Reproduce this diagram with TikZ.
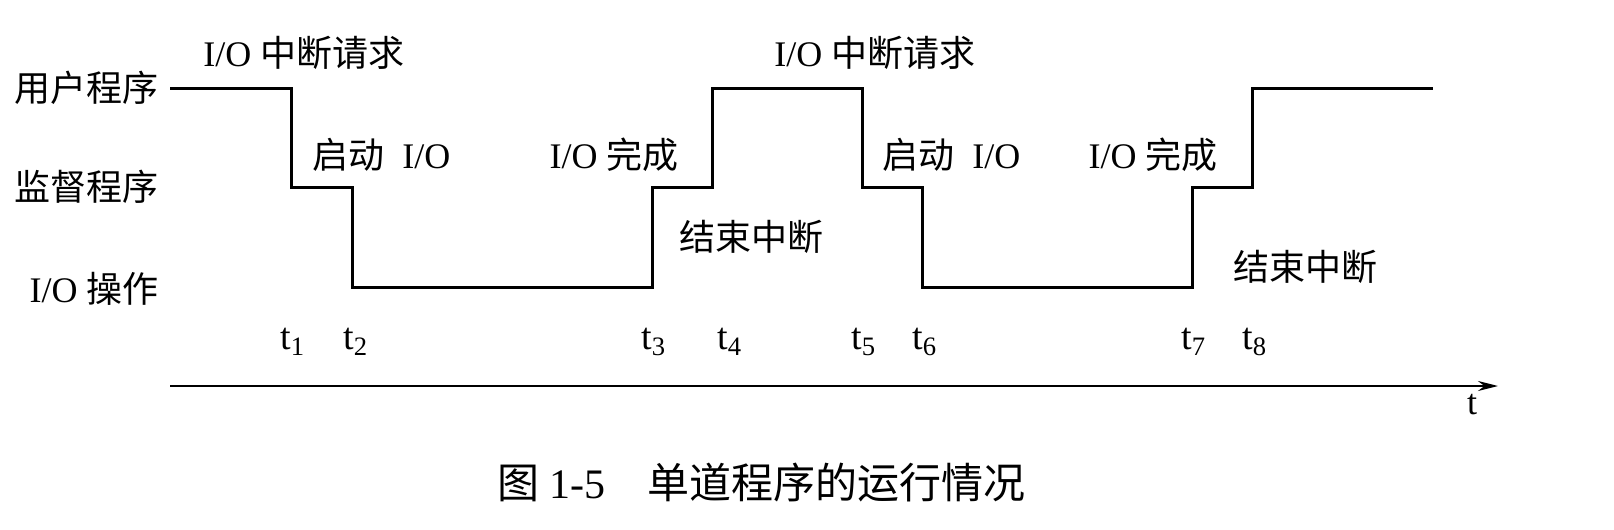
\documentclass[tikz,border=0pt]{standalone}
\usepackage{fontspec}
\setmainfont{Liberation Serif}
\newfontfamily\cjk{Noto Sans CJK SC}
\usetikzlibrary{arrows.meta}
\newcommand{\zh}[1]{{\cjk #1}}
\newcommand{\tsub}[1]{t\textsubscript{#1}}
\begin{document}
\begin{tikzpicture}[x=0.5pt,y=-0.5pt,
  lbl/.style={inner sep=0pt,font=\fontsize{18pt}{20pt}\selectfont},
  tlbl/.style={inner sep=0pt,anchor=west,font=\fontsize{19pt}{21pt}\selectfont},
  wave/.style={line width=1.5pt,line join=miter},
  axis/.style={line width=1pt,-{Stealth[length=10pt,width=5pt]}}]
\useasboundingbox[fill=white] (0,0) rectangle (1614,530);
% levels
\coordinate (p0) at (170,88);
\coordinate (p1) at (291,88);
\coordinate (p2) at (291,187);
\coordinate (p3) at (352,187);
\coordinate (p4) at (352,287);
\coordinate (p5) at (652,287);
\coordinate (p6) at (652,187);
\coordinate (p7) at (712,187);
\coordinate (p8) at (712,88);
\coordinate (p9) at (862,88);
\coordinate (p10) at (862,187);
\coordinate (p11) at (922,187);
\coordinate (p12) at (922,287);
\coordinate (p13) at (1192,287);
\coordinate (p14) at (1192,187);
\coordinate (p15) at (1252,187);
\coordinate (p16) at (1252,88);
\coordinate (p17) at (1433,88);
\draw[wave] (p0) -- (p1) -- (p2) -- (p3) -- (p4) -- (p5) -- (p6) -- (p7) -- (p8) -- (p9) -- (p10) -- (p11) -- (p12) -- (p13) -- (p14) -- (p15) -- (p16) -- (p17);
% axis
\coordinate (a0) at (170,386);
\coordinate (a1) at (1498,386);
\draw[axis] (a0) -- (a1);
\node[lbl] (tax) at (1472,405) {t};
% row labels
\node[lbl,anchor=east] (user) at (159,88) {\zh{用户程序}};
\node[lbl,anchor=east] (sup) at (159,187) {\zh{监督程序}};
\node[lbl,anchor=east] (iop) at (159,289) {I/O \zh{操作}};
% event labels
\node[lbl,anchor=west] (irq1) at (203,53) {I/O \zh{中断请求}};
\node[lbl,anchor=west] (irq2) at (774,53) {I/O \zh{中断请求}};
\node[lbl,anchor=west] (st1) at (312,155) {\zh{启动}\ \ I/O};
\node[lbl,anchor=west] (st2) at (882,155) {\zh{启动}\ \ I/O};
\node[lbl,anchor=east] (done1) at (679,155) {I/O \zh{完成}};
\node[lbl,anchor=east] (done2) at (1218,155) {I/O \zh{完成}};
\node[lbl,anchor=west] (end1) at (679,237) {\zh{结束中断}};
\node[lbl,anchor=west] (end2) at (1233,267) {\zh{结束中断}};
% time labels
\node[tlbl] (t1) at (280,342) {\tsub{1}};
\node[tlbl] (t2) at (343,342) {\tsub{2}};
\node[tlbl] (t3) at (641,342) {\tsub{3}};
\node[tlbl] (t4) at (717,342) {\tsub{4}};
\node[tlbl] (t5) at (851,342) {\tsub{5}};
\node[tlbl] (t6) at (912,342) {\tsub{6}};
\node[tlbl] (t7) at (1181,342) {\tsub{7}};
\node[tlbl] (t8) at (1242,342) {\tsub{8}};
% caption
\node[inner sep=0pt,anchor=west,font=\fontsize{21pt}{23pt}\selectfont] (cap) at (497,483) {\zh{图} 1-5\quad\zh{单道程序的运行情况}};
\end{tikzpicture}
\end{document}
